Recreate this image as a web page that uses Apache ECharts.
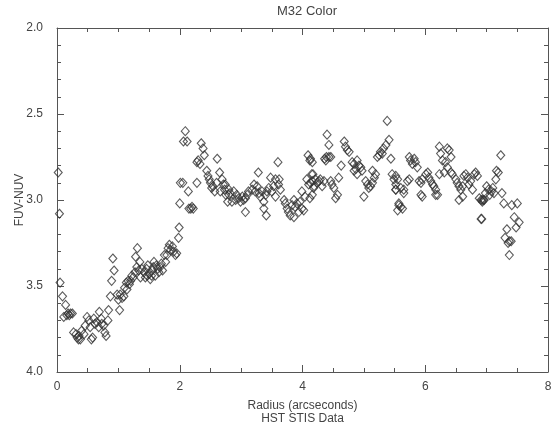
<!DOCTYPE html>
<html>
<head>
<meta charset="utf-8">
<script src="https://cdn.jsdelivr.net/npm/echarts@6/dist/echarts.min.js"></script>
<style>
  html, body { margin: 0; padding: 0; background: #fff; }
  #chart { width: 560px; height: 427px; }
</style>
</head>
<body>
<div id="chart"></div>
<script>
// M32 FUV-NUV colour profile
var radius = [
  0.02,0.04,0.05,0.09,0.14,0.11,0.18,0.20,0.22,0.25,0.16,0.27,
  0.31,0.33,0.35,0.38,0.36,0.44,0.56,0.58,0.49,0.52,0.60,0.62,0.65,0.69,0.68,0.73,0.72,0.76,0.78,0.80,0.83,0.84,0.87,0.54,0.46,0.40,
  0.89,0.91,0.93,0.98,1.00,1.03,1.02,1.09,1.10,1.13,1.16,1.18,1.20,1.24,1.27,1.30,1.33,1.36,1.28,1.31,1.06,1.14,1.22,1.38,1.35,
  1.42,1.44,1.46,1.48,1.50,1.52,1.55,1.57,1.60,1.62,1.64,1.66,1.68,1.70,1.72,1.75,1.77,1.79,1.81,1.83,1.85,1.88,1.90,1.93,1.95,1.98,1.99,1.54,1.58,1.47,
  2.00,2.01,2.05,2.06,2.09,2.12,2.14,2.15,2.18,2.20,2.22,2.28,2.28,2.30,2.33,2.35,2.38,2.40,2.44,2.46,2.48,2.50,2.52,2.54,2.61,2.65,2.66,2.69,2.71,2.73,2.75,2.78,2.80,2.57,2.60,
  2.74,2.80,2.82,2.88,2.93,2.96,3.02,2.99,2.85,2.91,3.04,3.07,3.10,3.12,3.18,3.21,3.26,3.23,3.29,3.31,3.34,3.37,3.40,3.42,3.45,3.50,3.53,3.56,3.64,3.61,3.07,3.37,3.41,3.60,3.28,3.48,3.56,3.62,
  3.70,3.72,3.75,3.77,3.80,3.83,3.86,3.88,3.91,3.94,3.96,3.99,4.02,3.86,4.09,4.12,4.15,4.16,4.07,4.10,4.04,4.12,3.99,4.18,
  4.40,4.43,4.13,4.16,4.17,4.21,4.36,4.39,4.43,4.46,4.38,4.63,4.68,4.70,4.73,4.76,4.81,4.84,4.89,4.92,4.95,4.87,4.84,4.89,4.97,
  5.03,5.06,5.08,5.11,5.14,5.17,5.19,5.14,5.00,5.38,5.41,5.36,5.32,5.27,5.25,5.22,5.30,5.44,5.46,5.49,5.52,5.52,5.57,5.55,
  4.13,4.19,4.24,4.27,4.29,4.35,4.32,4.46,4.48,4.51,4.54,4.57,4.59,4.16,
  5.74,5.76,5.79,5.82,5.84,5.87,6.23,6.25,6.28,6.33,6.36,6.39,6.42,6.36,6.42,6.44,6.31,6.23,
  5.52,5.55,5.60,5.65,5.71,5.74,5.90,5.93,5.95,6.01,6.04,6.06,6.09,6.12,6.14,6.17,6.20,5.93,6.17,5.52,5.57,5.60,5.63,5.65,5.95,
  6.50,6.52,6.55,6.58,6.61,6.63,6.66,6.69,6.71,6.74,6.80,6.82,6.85,6.77,6.55,6.61,6.88,6.91,6.93,6.96,6.91,
  7.23,7.16,7.19,7.15,7.00,7.03,7.08,7.05,6.98,7.25,7.28,7.41,7.50,6.92,7.45,7.53,7.48,7.33,7.30,7.37,7.35,7.40,7.37,6.93,6.95,7.10,7.12
];
var fuvNuv = [
  2.84,3.08,3.48,3.56,3.61,3.68,3.66,3.67,3.66,3.66,3.67,3.77,
  3.78,3.80,3.81,3.81,3.79,3.78,3.81,3.80,3.68,3.70,3.69,3.72,3.71,3.65,3.74,3.72,3.69,3.73,3.77,3.79,3.70,3.64,3.56,3.74,3.73,3.76,
  3.47,3.34,3.41,3.55,3.58,3.55,3.64,3.56,3.51,3.48,3.47,3.49,3.47,3.45,3.42,3.39,3.41,3.45,3.33,3.28,3.57,3.52,3.44,3.40,3.36,
  3.42,3.45,3.40,3.38,3.43,3.46,3.41,3.39,3.44,3.38,3.40,3.42,3.39,3.37,3.41,3.32,3.36,3.32,3.28,3.26,3.29,3.27,3.30,3.32,3.31,3.22,3.16,3.44,3.36,3.44,
  3.02,2.90,2.90,2.66,2.60,2.66,2.95,3.05,3.05,3.04,3.05,2.90,2.78,2.77,2.79,2.67,2.70,2.74,2.83,2.86,2.88,2.90,2.93,2.92,2.76,2.84,2.95,2.88,2.91,2.94,2.97,3.01,2.97,2.95,2.90,
  2.91,2.94,2.96,2.95,2.97,2.99,2.98,3.01,3.01,3.00,3.00,2.99,2.97,2.95,2.94,2.91,2.92,2.95,2.96,2.98,2.95,3.01,2.97,2.95,2.93,2.95,2.92,2.98,2.94,2.91,3.07,3.05,3.09,2.78,2.84,2.87,2.88,2.88,
  3.00,3.02,3.05,3.07,3.09,3.03,3.00,3.04,3.02,3.07,3.01,3.05,3.06,3.10,2.74,2.77,2.85,2.89,2.88,2.91,2.98,2.99,2.95,2.93,
  2.62,2.68,2.76,2.78,2.85,2.88,2.76,2.75,2.75,2.75,2.77,2.80,2.66,2.69,2.71,2.72,2.78,2.79,2.77,2.80,2.81,2.82,2.83,2.85,2.83,
  2.89,2.91,2.93,2.92,2.90,2.87,2.85,2.83,2.98,2.54,2.65,2.68,2.70,2.72,2.74,2.75,2.73,2.76,2.85,2.88,2.91,2.94,3.03,3.06,
  2.90,2.92,2.90,2.89,2.88,2.89,2.92,2.89,2.91,2.93,2.99,2.97,2.87,2.97,
  2.75,2.77,2.79,2.76,2.78,2.81,2.69,2.73,2.77,2.78,2.70,2.71,2.75,2.81,2.84,2.85,2.84,2.85,
  2.86,2.88,2.93,2.94,2.89,2.88,2.89,2.90,2.88,2.85,2.84,2.87,2.89,2.91,2.92,2.94,2.97,2.97,2.97,2.94,3.02,3.04,3.05,2.96,2.98,
  2.88,2.90,2.92,2.94,2.92,2.86,2.85,2.87,2.91,2.89,2.85,2.84,2.86,2.94,3.00,2.98,2.99,3.00,3.01,3.00,3.11,
  2.74,2.83,2.84,2.88,2.92,2.94,2.95,2.97,2.96,2.96,3.02,3.03,3.02,3.11,3.10,3.13,3.16,3.17,3.22,3.24,3.25,3.24,3.32,3.00,3.00,2.93,2.96
];
var xTicks = [0, 2, 4, 6, 8];
var yTicks = [2.0, 2.5, 3.0, 3.5, 4.0];

var points = radius.map(function (r, i) { return [r, fuvNuv[i]]; });

var axisGray = '#555';
var textGray = '#444';
var font = 'Liberation Sans, Arial, sans-serif';

function xAxisBase(pos, showLabels) {
  return {
    type: 'value', position: pos,
    min: xTicks[0], max: xTicks[xTicks.length - 1], interval: 2,
    axisLine: { show: true, onZero: false, lineStyle: { color: axisGray, width: 1 } },
    axisTick: { show: true, inside: true, length: 7, lineStyle: { color: axisGray } },
    minorTick: { show: true, splitNumber: 4, length: 4, lineStyle: { color: axisGray } },
    splitLine: { show: false },
    axisLabel: { show: showLabels, color: textGray, fontFamily: font, fontSize: 12, margin: 9 }
  };
}
function yAxisBase(pos, showLabels) {
  return {
    type: 'value', position: pos, inverse: true,
    min: yTicks[0], max: yTicks[yTicks.length - 1], interval: 0.5,
    axisLine: { show: true, onZero: false, lineStyle: { color: axisGray, width: 1 } },
    axisTick: { show: true, inside: true, length: 7, lineStyle: { color: axisGray } },
    minorTick: { show: true, splitNumber: 5, length: 4, lineStyle: { color: axisGray } },
    splitLine: { show: false },
    axisLabel: { show: showLabels, color: textGray, fontFamily: font, fontSize: 12, margin: 14,
      formatter: function (v) { return v.toFixed(1); } }
  };
}

var xBottom = xAxisBase('bottom', true);
xBottom.name = 'Radius (arcseconds)\nHST STIS Data';
xBottom.nameLocation = 'middle';
xBottom.nameGap = 27;
xBottom.nameTextStyle = { color: textGray, fontFamily: font, fontSize: 12, lineHeight: 13 };
var yLeft = yAxisBase('left', true);
yLeft.name = 'FUV-NUV';
yLeft.nameLocation = 'middle';
yLeft.nameGap = 31;
yLeft.nameMoveOverlap = false;
yLeft.nameTextStyle = { color: textGray, fontFamily: font, fontSize: 12 };

var chart = echarts.init(document.getElementById('chart'), null, { renderer: 'canvas' });
chart.setOption({
  animation: false,
  backgroundColor: '#fff',
  title: {
    text: 'M32 Color', left: 302, top: 0, textAlign: 'center',
    textStyle: { color: textGray, fontFamily: font, fontSize: 13, fontWeight: 'normal' }
  },
  grid: { left: 57, right: 12, top: 28, bottom: 55, containLabel: false, outerBoundsMode: 'none' },
  xAxis: [xBottom, xAxisBase('top', false)],
  yAxis: [yLeft, yAxisBase('right', false)],
  series: [{
    type: 'scatter',
    xAxisIndex: 0, yAxisIndex: 0,
    data: points,
    symbol: 'diamond',
    symbolSize: [8, 9],
    itemStyle: { color: 'rgba(0,0,0,0)', borderColor: '#333', borderWidth: 1.1 },
    emphasis: { disabled: true }
  }]
});
</script>
</body>
</html>
